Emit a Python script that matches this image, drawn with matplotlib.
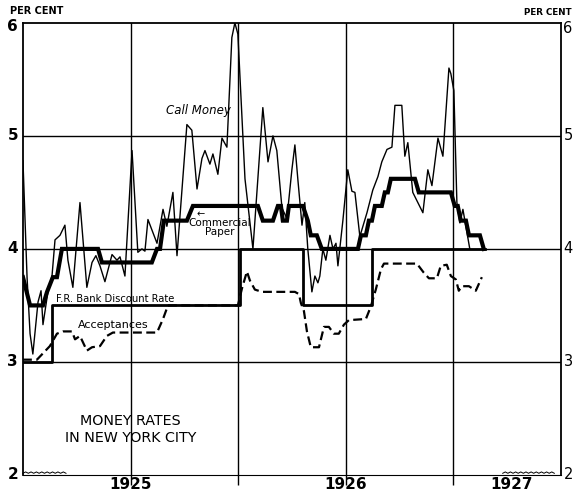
import matplotlib
matplotlib.use("Agg")
import matplotlib.pyplot as plt
import numpy as np

# ---------------- data (decimal years, per cent) ----------------
call_t = [1925.000, 1925.019, 1925.033, 1925.046, 1925.070, 1925.084, 1925.093, 1925.116,
          1925.135, 1925.149, 1925.172, 1925.195, 1925.209, 1925.232, 1925.265, 1925.297,
          1925.321, 1925.339, 1925.358, 1925.381, 1925.414, 1925.437, 1925.451, 1925.474,
          1925.507, 1925.534, 1925.553, 1925.567, 1925.581, 1925.599, 1925.623, 1925.651,
          1925.669, 1925.697, 1925.716, 1925.762, 1925.785, 1925.809, 1925.832, 1925.846,
          1925.869, 1925.883, 1925.906, 1925.925, 1925.948, 1925.971, 1925.985, 1925.999,
          1926.032, 1926.069, 1926.115, 1926.139, 1926.162, 1926.180, 1926.204, 1926.227,
          1926.250, 1926.264, 1926.278, 1926.297, 1926.310, 1926.324, 1926.343, 1926.357,
          1926.371, 1926.380, 1926.394, 1926.408, 1926.427, 1926.441, 1926.455, 1926.464,
          1926.487, 1926.510, 1926.529, 1926.543, 1926.566, 1926.599, 1926.626, 1926.650,
          1926.668, 1926.692, 1926.715, 1926.729, 1926.761, 1926.775, 1926.789, 1926.812,
          1926.859, 1926.882, 1926.901, 1926.929, 1926.952, 1926.980, 1926.989, 1927.003,
          1927.017, 1927.031, 1927.045, 1927.077]
call_v = [4.78, 3.75, 3.25, 3.07, 3.53, 3.63, 3.33, 3.62,
          3.76, 4.08, 4.12, 4.21, 3.90, 3.66, 4.41, 3.66,
          3.88, 3.94, 3.85, 3.71, 3.95, 3.90, 3.93, 3.76,
          4.87, 3.97, 4.00, 3.98, 4.26, 4.17, 4.05, 4.35,
          4.20, 4.50, 3.94, 5.10, 5.05, 4.53, 4.80, 4.87,
          4.75, 4.84, 4.66, 4.98, 4.90, 5.87, 6.00, 5.90,
          4.62, 4.00, 5.25, 4.77, 5.00, 4.87, 4.36, 4.27,
          4.70, 4.92, 4.61, 4.21, 4.41, 4.00, 3.62, 3.76,
          3.70, 3.76, 4.00, 3.90, 4.12, 4.00, 4.05, 3.85,
          4.25, 4.70, 4.51, 4.50, 4.11, 4.32, 4.52, 4.64,
          4.77, 4.88, 4.90, 5.27, 5.27, 4.82, 4.94, 4.50,
          4.32, 4.70, 4.56, 4.98, 4.82, 5.60, 5.55, 5.40,
          4.41, 4.23, 4.35, 4.00]

paper_t = [1925.000, 1925.033, 1925.093, 1925.112, 1925.139, 1925.158, 1925.181, 1925.349,
           1925.367, 1925.599, 1925.623, 1925.637, 1925.655, 1925.762, 1925.790, 1926.092,
           1926.115, 1926.162, 1926.185, 1926.199, 1926.208, 1926.227, 1926.236, 1926.301,
           1926.324, 1926.338, 1926.366, 1926.389, 1926.557, 1926.571, 1926.594, 1926.608,
           1926.622, 1926.636, 1926.668, 1926.682, 1926.696, 1926.710, 1926.822, 1926.840,
           1926.989, 1927.007, 1927.021, 1927.035, 1927.059, 1927.073, 1927.124, 1927.142]
paper_v = [3.75, 3.50, 3.50, 3.62, 3.75, 3.75, 4.00, 4.00,
           3.88, 3.88, 4.00, 4.00, 4.25, 4.25, 4.38, 4.38,
           4.25, 4.25, 4.38, 4.38, 4.25, 4.25, 4.38, 4.38,
           4.25, 4.12, 4.12, 4.00, 4.00, 4.12, 4.12, 4.25,
           4.25, 4.38, 4.38, 4.50, 4.50, 4.62, 4.62, 4.50,
           4.50, 4.38, 4.38, 4.25, 4.25, 4.12, 4.12, 4.00]

discount_t = [1925.000, 1925.135, 1926.008, 1926.301, 1926.622, 1927.147]
discount_v = [3.0, 3.5, 4.0, 3.5, 4.0, 4.0]

accept_t = [1925.000, 1925.065, 1925.125, 1925.158, 1925.186, 1925.228, 1925.242, 1925.265,
            1925.297, 1925.321, 1925.358, 1925.390, 1925.418, 1925.623, 1925.651, 1925.674,
            1925.999, 1926.018, 1926.041, 1926.055, 1926.078, 1926.111, 1926.264, 1926.283,
            1926.292, 1926.306, 1926.320, 1926.338, 1926.376, 1926.399, 1926.422, 1926.445,
            1926.468, 1926.492, 1926.515, 1926.594, 1926.617, 1926.640, 1926.664, 1926.678,
            1926.831, 1926.863, 1926.887, 1926.924, 1926.942, 1926.970, 1926.989, 1927.012,
            1927.026, 1927.040, 1927.073, 1927.105, 1927.133]
accept_v = [3.02, 3.02, 3.14, 3.25, 3.27, 3.27, 3.20, 3.23,
            3.10, 3.13, 3.14, 3.23, 3.26, 3.26, 3.38, 3.50,
            3.50, 3.65, 3.80, 3.72, 3.64, 3.62, 3.62, 3.60,
            3.52, 3.45, 3.27, 3.13, 3.13, 3.31, 3.31, 3.25,
            3.25, 3.33, 3.37, 3.38, 3.49, 3.64, 3.82, 3.87,
            3.87, 3.79, 3.74, 3.74, 3.85, 3.86, 3.76, 3.73,
            3.63, 3.67, 3.67, 3.63, 3.75]

y_ticks = [2, 3, 4, 5, 6]
grid_x = [1925.5, 1926.0, 1926.5, 1927.0]
year_labels = ["1925", "1926", "1927"]
year_label_pos = [1925.5, 1926.5, 1927.27]

# ---------------- figure ----------------
plt.rcParams['font.family'] = ['DejaVu Sans']
fig = plt.figure(figsize=(5.74, 4.92), dpi=100)
ax = fig.add_axes([0.040, 0.0346, 0.937, 0.919])
ax.set_xlim(1925.0, 1927.5)
ax.set_ylim(2, 6)

# grid
for yv in [3, 4, 5]:
    ax.axhline(yv, color='black', lw=1.0, zorder=1)
for xv in grid_x:
    ax.axvline(xv, color='black', lw=1.0, zorder=1)

ax.plot(accept_t, accept_v, color='black', lw=1.6, ls=(0, (4, 2)), zorder=3)
ax.step(discount_t, discount_v, where='post', color='black', lw=2.0, zorder=4)
ax.plot(paper_t, paper_v, color='black', lw=3.0, zorder=5, solid_joinstyle='miter')
ax.plot(call_t, call_v, color='black', lw=1.0, zorder=6)

# axis styling
for s in ['left', 'right', 'top']:
    ax.spines[s].set_linewidth(1.3)
ax.spines['bottom'].set_linewidth(0.8)
ax.set_yticks(y_ticks)
ax.set_yticklabels([])
ax.tick_params(axis='y', length=0)
ax.set_xticks(grid_x)
ax.set_xticklabels([])
ax.tick_params(axis='x', length=7, width=1.0, direction='out')

ytr = ax.get_yaxis_transform()
for v in y_ticks:
    yl = v - 0.03 if v == 6 else v
    yr = v - 0.05 if v == 6 else v
    ax.text(-0.009, yl, str(v), transform=ytr, ha='right', va='center',
            fontsize=11, fontweight='bold')
    ax.text(1.005, yr, str(v), transform=ytr, ha='left', va='center',
            fontsize=10.5)

for lab, xp in zip(year_labels, year_label_pos):
    ax.text(xp, 1.985, lab, ha='center', va='top', fontsize=11, fontweight='bold')

# axis break zigzags
zz_l = np.linspace(1925.0, 1925.2, 17)
ax.plot(zz_l, 2.015 + 0.012 * (np.arange(17) % 2), color='black', lw=0.7, clip_on=False)
zz_r = np.linspace(1927.23, 1927.47, 21)
ax.plot(zz_r, 2.015 + 0.012 * (np.arange(21) % 2), color='black', lw=0.7, clip_on=False)

fig.text(0.017, 0.978, "PER CENT", fontsize=7, fontweight='bold', ha='left', va='center')
fig.text(0.913, 0.974, "PER CENT", fontsize=6.3, fontweight='bold', ha='left', va='center')

# annotations
ax.text(1925.815, 5.22, "Call Money", fontsize=8.5, style='italic', ha='center', va='center')
ax.text(1925.825, 4.31, "\u2190", fontsize=7, ha='center', va='center')
ax.text(1925.915, 4.19, "Commercial\nPaper", fontsize=7.5, ha='center',
        va='center', linespacing=0.95)
ax.text(1925.43, 3.515, "F.R. Bank Discount Rate", fontsize=7.2,
        ha='center', va='bottom')
ax.text(1925.42, 3.33, "Acceptances", fontsize=8, ha='center', va='center')
ax.text(1925.50, 2.40, "MONEY RATES\nIN NEW YORK CITY", fontsize=10.3, ha='center',
        va='center', linespacing=1.25)

fig.savefig("out.png", dpi=100)
